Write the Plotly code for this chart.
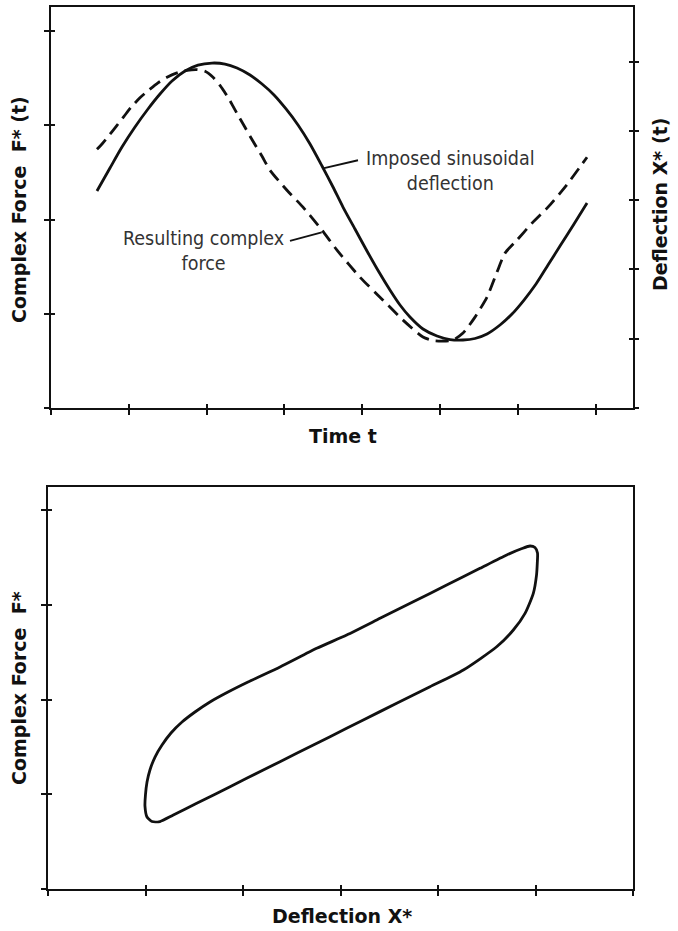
import plotly.graph_objects as go

# ---------------- data ----------------
# Top panel: time axis (arbitrary units, ticks 0..7)
t_force = [0.594, 0.659, 0.761, 0.851, 0.941, 1.031, 1.146, 1.249, 1.377, 1.493,
           1.621, 1.750, 1.878, 1.981, 2.084, 2.173, 2.276, 2.391, 2.494, 2.597,
           2.713, 2.815, 3.033, 3.239, 3.483, 3.675, 3.970, 4.266, 4.523, 4.779,
           4.907, 5.036, 5.164, 5.293, 5.447, 5.601, 5.729, 5.832, 5.986, 6.178,
           6.384, 6.602, 6.885]
force = [2.747, 2.803, 2.906, 3.001, 3.096, 3.192, 3.293, 3.367, 3.452, 3.510,
         3.558, 3.584, 3.592, 3.574, 3.510, 3.425, 3.298, 3.128, 2.980, 2.831,
         2.672, 2.524, 2.312, 2.132, 1.888, 1.676, 1.389, 1.145, 0.933, 0.753,
         0.716, 0.711, 0.721, 0.795, 0.965, 1.177, 1.442, 1.644, 1.782, 1.962,
         2.132, 2.344, 2.662]

t_defl = [0.594, 0.761, 0.915, 1.082, 1.249, 1.403, 1.557, 1.724, 1.891, 2.071,
          2.238, 2.392, 2.559, 2.713, 2.867, 3.021, 3.175, 3.329, 3.483, 3.624,
          3.752, 3.906, 4.060, 4.214, 4.355, 4.484, 4.612, 4.779, 4.959, 5.126,
          5.293, 5.447, 5.601, 5.768, 5.922, 6.076, 6.230, 6.384, 6.538, 6.718,
          6.885]
deflection = [3.131, 3.463, 3.766, 4.055, 4.315, 4.531, 4.719, 4.863, 4.949, 4.978,
              4.964, 4.906, 4.805, 4.675, 4.517, 4.315, 4.084, 3.810, 3.492, 3.189,
              2.900, 2.583, 2.266, 1.962, 1.703, 1.486, 1.313, 1.140, 1.039, 0.988,
              0.981, 1.003, 1.068, 1.198, 1.356, 1.558, 1.789, 2.063, 2.338, 2.655,
              2.958]

# Bottom panel: hysteresis loop (deflection vs force)
loop_x = [0.992, 0.997, 1.013, 1.043, 1.095, 1.167, 1.259, 1.372, 1.505, 1.659,
          1.844, 2.049, 2.378, 2.754, 3.062, 3.404, 3.745, 4.088, 4.430, 4.704,
          4.861, 4.943, 4.994, 5.020, 5.018, 5.010, 4.977, 4.892, 4.772, 4.601,
          4.259, 3.917, 3.575, 3.232, 2.891, 2.549, 2.206, 1.865, 1.523, 1.283,
          1.146, 1.064, 1.013, 0.992]
loop_y = [0.874, 0.991, 1.128, 1.255, 1.392, 1.519, 1.646, 1.762, 1.868, 1.974,
          2.079, 2.185, 2.344, 2.541, 2.682, 2.858, 3.034, 3.210, 3.387, 3.528,
          3.596, 3.623, 3.607, 3.549, 3.443, 3.316, 3.123, 2.911, 2.735, 2.558,
          2.312, 2.135, 1.960, 1.784, 1.607, 1.431, 1.255, 1.078, 0.903, 0.779,
          0.710, 0.710, 0.758, 0.874]

top_x_ticks = [0, 1, 2, 3, 4, 5, 6, 7]
top_y_ticks = [0, 1, 2, 3, 4]
top_y2_ticks = [0, 1, 2, 3, 4, 5]
bot_x_ticks = [0, 1, 2, 3, 4, 5, 6]
bot_y_ticks = [0, 1, 2, 3, 4]

# ---------------- layout geometry ----------------
W, H = 678, 931
def px(x):
    return x / W
def py(y):
    return 1 - y / H

top_xdom = [px(50.7), px(633.3)]
top_ydom = [py(408), py(6.7)]
bot_xdom = [px(48.3), px(633)]
bot_ydom = [py(888.7), py(486.7)]

TOP_XR = [0, 7.479]
TOP_YR = [0, 4.26]
TOP_Y2R = [0, 5.791]
BOT_XR = [0, 6.0]
BOT_YR = [0, 4.25]

INK = "#111111"
LW = 2.8

fig = go.Figure()

fig.add_trace(go.Scatter(x=t_defl, y=deflection, mode="lines", xaxis="x", yaxis="y2",
                         line=dict(color=INK, width=LW, shape="spline", smoothing=0.7),
                         showlegend=False, hoverinfo="skip"))
fig.add_trace(go.Scatter(x=t_force, y=force, mode="lines", xaxis="x", yaxis="y",
                         line=dict(color=INK, width=LW, dash="13px,7px", shape="spline", smoothing=0.6),
                         showlegend=False, hoverinfo="skip"))
fig.add_trace(go.Scatter(x=loop_x, y=loop_y, mode="lines", xaxis="x2", yaxis="y3",
                         line=dict(color=INK, width=LW, shape="spline", smoothing=0.6),
                         showlegend=False, hoverinfo="skip"))

# empty traces so that the inside-tick overlay axes are drawn
for xa, ya in [("x3", "y"), ("x", "y4"), ("x", "y5"), ("x4", "y3"), ("x2", "y6")]:
    fig.add_trace(go.Scatter(x=[], y=[], xaxis=xa, yaxis=ya, showlegend=False, hoverinfo="skip"))

def ax(**kw):
    base = dict(showgrid=False, zeroline=False, showticklabels=False,
                ticks="outside", ticklen=5, tickwidth=1.6, tickcolor=INK,
                fixedrange=True)
    base.update(kw)
    return base

fig.update_layout(
    width=W, height=H,
    margin=dict(l=0, r=0, t=0, b=0),
    paper_bgcolor="white", plot_bgcolor="white",
    xaxis=ax(domain=top_xdom, anchor="y", range=TOP_XR, tickvals=top_x_ticks,
             showline=True, linecolor=INK, linewidth=2, mirror=True),
    yaxis=ax(domain=top_ydom, anchor="x", range=TOP_YR, tickvals=top_y_ticks,
             showline=True, linecolor=INK, linewidth=2, mirror=True),
    yaxis2=ax(overlaying="y", side="right", anchor="x", range=TOP_Y2R, tickvals=top_y2_ticks),
    xaxis2=ax(domain=bot_xdom, anchor="y3", range=BOT_XR, tickvals=bot_x_ticks,
              showline=True, linecolor=INK, linewidth=2, mirror=True),
    yaxis3=ax(domain=bot_ydom, anchor="x2", range=BOT_YR, tickvals=bot_y_ticks,
              showline=True, linecolor=INK, linewidth=2, mirror=True),
    # inside halves of the crossing tick marks
    xaxis3=ax(overlaying="x", anchor="y", side="bottom", range=TOP_XR, tickvals=top_x_ticks,
              ticks="inside", ticklen=4),
    yaxis4=ax(overlaying="y", anchor="x", side="left", range=TOP_YR, tickvals=top_y_ticks,
              ticks="inside", ticklen=4),
    yaxis5=ax(overlaying="y", anchor="x", side="right", range=TOP_Y2R, tickvals=top_y2_ticks,
              ticks="inside", ticklen=4),
    xaxis4=ax(overlaying="x2", anchor="y3", side="bottom", range=BOT_XR, tickvals=bot_x_ticks,
              ticks="inside", ticklen=4),
    yaxis6=ax(overlaying="y3", anchor="x2", side="left", range=BOT_YR, tickvals=bot_y_ticks,
              ticks="inside", ticklen=4),
)

TITLE_FONT = dict(family="DejaVu Sans, Verdana, sans-serif", size=19, color=INK, weight="bold")
NOTE_FONT = dict(family="DejaVu Sans Condensed, DejaVu Sans, sans-serif", size=19.5, color="#333333")

titles = [
    ("Time t", 343.5, 436, 0),
    ("Deflection X*", 342, 916, 0),
    ("Complex Force\u00a0 F* (t)", 19, 210, -90),
    ("Deflection X* (t)", 660, 205, -90),
    ("Complex Force\u00a0 F*", 19, 688, -90),
]
for txt, x, y, ang in titles:
    fig.add_annotation(text=txt, xref="paper", yref="paper", x=px(x), y=py(y),
                       xanchor="center", yanchor="middle", textangle=ang,
                       showarrow=False, font=TITLE_FONT)

notes = [
    ("Imposed sinusoidal<br>deflection", 450, 171),
    ("Resulting complex<br>force", 203, 251),
]
for txt, x, y in notes:
    fig.add_annotation(text=txt, xref="paper", yref="paper", x=px(x), y=py(y),
                       xanchor="center", yanchor="middle", showarrow=False,
                       font=NOTE_FONT, align="center")

# leader lines from the labels to the curves (top-panel data coordinates)
for x0, y0, x1, y1 in [(3.945, 2.630, 3.496, 2.545), (3.072, 1.775, 3.479, 1.864)]:
    fig.add_shape(type="line", xref="x", yref="y", x0=x0, y0=y0, x1=x1, y1=y1,
                  line=dict(color=INK, width=1.8))

fig.write_html("out.html", config={"displayModeBar": False},
               post_script="document.body.style.margin='0';document.body.style.overflow='hidden';")
